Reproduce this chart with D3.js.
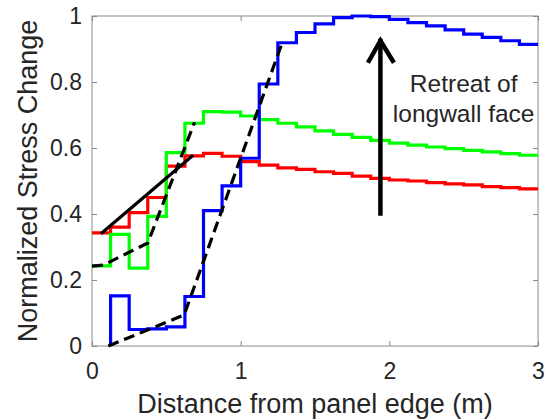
<!DOCTYPE html>
<html>
<head>
<meta charset="utf-8">
<script src="https://cdn.jsdelivr.net/npm/d3@7"></script>
<style>
  html, body { margin: 0; padding: 0; background: #fff; }
  svg { display: block; }
  text { font-family: "Liberation Sans", Arial, Helvetica, sans-serif; fill: #262626; }
</style>
</head>
<body>
<svg id="chart" width="547" height="420"></svg>
<script>
// Left edge of each 0.125 m step along the panel
const stepX = [0, 0.125, 0.25, 0.375, 0.5, 0.625, 0.75, 0.875,
               1.0, 1.125, 1.25, 1.375, 1.5, 1.625, 1.75, 1.875,
               2.0, 2.125, 2.25, 2.375, 2.5, 2.625, 2.75, 2.875];
const xEnd = 3;

// Normalized stress change on each step
const redSteps = [0.343, 0.36, 0.404, 0.45, 0.545, 0.576, 0.584, 0.575,
                  0.559, 0.548, 0.54, 0.535, 0.528, 0.523, 0.515, 0.508,
                  0.503, 0.5, 0.495, 0.491, 0.488, 0.483, 0.48, 0.476];
const greenSteps = [0.243, 0.338, 0.236, 0.393, 0.586, 0.675, 0.71, 0.709,
                    0.697, 0.686, 0.675, 0.664, 0.652, 0.641, 0.632, 0.623,
                    0.615, 0.609, 0.603, 0.598, 0.593, 0.588, 0.583, 0.578];
const blueSteps = [null, 0.152, 0.05, 0.052, 0.058, 0.15, 0.41, 0.485,
                   0.569, 0.794, 0.919, 0.95, 0.976, 0.995, 1.0, 0.998,
                   0.99, 0.98, 0.97, 0.958, 0.945, 0.935, 0.925, 0.914];

// Fitted trend lines
const redFitX = [0.06, 0.68];
const redFitY = [0.34, 0.578];
const greenFitX = [0, 0.075, 0.375, 0.69];
const greenFitY = [0.242, 0.245, 0.312, 0.678];
const blueFitX = [0.11, 0.62, 1.28];
const blueFitY = [0.0, 0.094, 0.92];

// Arrow marking the face retreat direction
const arrowX = 1.94;
const arrowY = [0.395, 0.925];

const xTicks = [0, 1, 2, 3];
const xTickLabels = ["0", "1", "2", "3"];
const yTicks = [0, 0.2, 0.4, 0.6, 0.8, 1];
const yTickLabels = ["0", "0.2", "0.4", "0.6", "0.8", "1"];

const xLabel = "Distance from panel edge (m)";
const yLabel = "Normalized Stress Change";
const noteLines = ["Retreat of", "longwall face"];

const svg = d3.select("#chart");
const W = 547, H = 420;
const m = { left: 92, right: 9, top: 16, bottom: 74 };

const x = d3.scaleLinear().domain([0, 3]).range([m.left, W - m.right]);
const y = d3.scaleLinear().domain([0, 1]).range([H - m.bottom, m.top]);

const axisColor = "#8a8a8a";

// Frame
svg.append("rect")
  .attr("x", x(0)).attr("y", y(1))
  .attr("width", x(3) - x(0)).attr("height", y(0) - y(1))
  .attr("fill", "none").attr("stroke", axisColor).attr("stroke-width", 1);

function styleAxis(g) {
  g.select(".domain").remove();
  g.selectAll(".tick line").attr("stroke", axisColor).attr("stroke-width", 1);
  g.selectAll(".tick text").attr("fill", "#262626")
    .style("font-size", "23px")
    .style("font-family", "'Liberation Sans', Arial, sans-serif");
}

const xi = i => xTickLabels[xTicks.indexOf(i)];
const yi = i => yTickLabels[yTicks.indexOf(i)];

svg.append("g").attr("transform", `translate(0,${y(0)})`)
  .call(d3.axisBottom(x).tickValues(xTicks).tickFormat(xi)
        .tickSizeInner(-5).tickSizeOuter(0).tickPadding(17))
  .call(styleAxis);
svg.append("g").attr("transform", `translate(0,${y(1)})`)
  .call(d3.axisTop(x).tickValues(xTicks).tickFormat("")
        .tickSizeInner(-5).tickSizeOuter(0))
  .call(styleAxis);
svg.append("g").attr("transform", `translate(${x(0)},0)`)
  .call(d3.axisLeft(y).tickValues(yTicks).tickFormat(yi)
        .tickSizeInner(-5).tickSizeOuter(0).tickPadding(10))
  .call(styleAxis);
svg.append("g").attr("transform", `translate(${x(3)},0)`)
  .call(d3.axisRight(y).tickValues(yTicks).tickFormat("")
        .tickSizeInner(-5).tickSizeOuter(0))
  .call(styleAxis);

// Stepped stress profiles
function stepPoints(vals) {
  const pts = [];
  vals.forEach((v, i) => { if (v !== null) pts.push([stepX[i], v]); });
  pts.push([xEnd, pts[pts.length - 1][1]]);
  return pts;
}
const stepLine = d3.line().x(d => x(d[0])).y(d => y(d[1])).curve(d3.curveStepAfter);

const series = [
  { vals: redSteps, color: "#ff0000", fromZero: false },
  { vals: greenSteps, color: "#00ff00", fromZero: false },
  { vals: blueSteps, color: "#0000ff", fromZero: true }
];
series.forEach(s => {
  let pts = stepPoints(s.vals);
  if (s.fromZero) pts = [[pts[0][0], 0]].concat(pts);
  svg.append("path")
    .attr("d", stepLine(pts))
    .attr("fill", "none")
    .attr("stroke", s.color)
    .attr("stroke-width", 3.2)
    .attr("stroke-linejoin", "miter");
});

// Trend lines
const plainLine = d3.line().x(d => x(d[0])).y(d => y(d[1]));
const zip = (xs, ys) => xs.map((v, i) => [v, ys[i]]);

svg.append("path")
  .attr("d", plainLine(zip(redFitX, redFitY)))
  .attr("fill", "none").attr("stroke", "#000").attr("stroke-width", 3.2);

[zip(greenFitX, greenFitY), zip(blueFitX, blueFitY)].forEach(pts => {
  svg.append("path")
    .attr("d", plainLine(pts))
    .attr("fill", "none").attr("stroke", "#000").attr("stroke-width", 3.2)
    .attr("stroke-dasharray", "11,6");
});

// Arrow
const ax = x(arrowX), ay0 = y(arrowY[0]), ay1 = y(arrowY[1]);
svg.append("line")
  .attr("x1", ax).attr("x2", ax).attr("y1", ay0).attr("y2", ay1 - 2)
  .attr("stroke", "#000").attr("stroke-width", 4.5);
svg.append("path")
  .attr("d", `M${ax - 12.5},${ay1 + 22} L${ax},${ay1} L${ax + 13.5},${ay1 + 22}`)
  .attr("fill", "none").attr("stroke", "#000").attr("stroke-width", 4.5)
  .attr("stroke-linejoin", "miter");

// Annotation
const note = svg.append("text")
  .attr("x", x(2.5)).attr("y", y(0.77))
  .attr("text-anchor", "middle")
  .style("font-size", "24.5px");
noteLines.forEach((t, i) => {
  note.append("tspan").attr("x", x(2.5)).attr("dy", i === 0 ? 0 : 30).text(t);
});

// Axis titles
svg.append("text")
  .attr("x", (x(0) + x(3)) / 2).attr("y", 413)
  .attr("text-anchor", "middle")
  .style("font-size", "27px")
  .text(xLabel);
svg.append("text")
  .attr("transform", `translate(37,${(y(0) + y(1)) / 2}) rotate(-90)`)
  .attr("text-anchor", "middle")
  .style("font-size", "27px")
  .text(yLabel);
</script>
</body>
</html>
